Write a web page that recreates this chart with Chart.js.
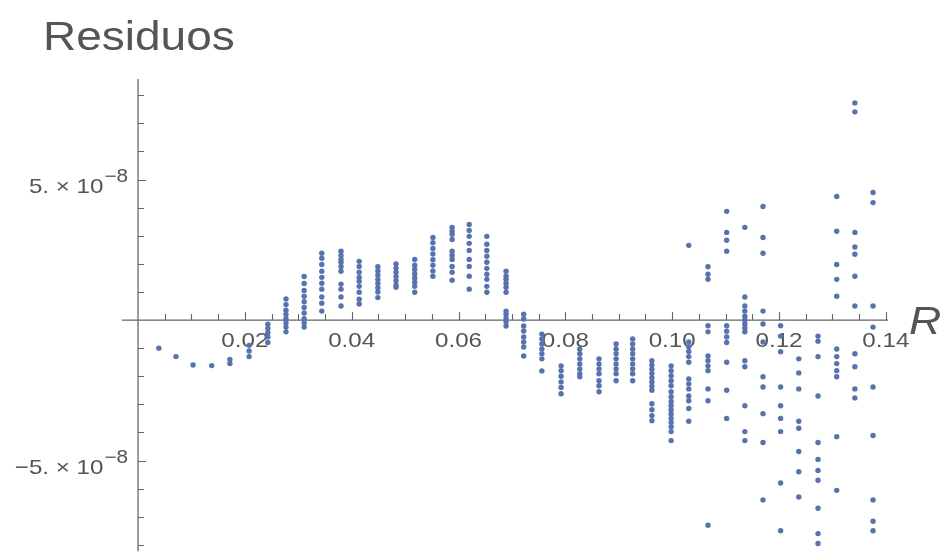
<!DOCTYPE html>
<html>
<head>
<meta charset="utf-8">
<script src="https://cdn.jsdelivr.net/npm/chart.js@4"></script>
<style>
  body { margin: 0; background: #fff; }
</style>
</head>
<body>
<canvas id="resChart" width="943" height="554"></canvas>
<script>
// residuals vs R (residuals in units of 1e-8)
const unit = 1e-8

const colR = [
    0.0039, 0.0071, 0.0103, 0.0138, 0.0172, 0.0208, 0.0243, 0.0277, 0.0311, 0.0344,
    0.0380, 0.0414, 0.0449, 0.0483, 0.0518, 0.0552, 0.0588, 0.0620, 0.0653, 0.0689,
    0.0722, 0.0756, 0.0792, 0.0827, 0.0863, 0.0895, 0.0926, 0.0962, 0.0998, 0.1031,
    0.1067, 0.1102, 0.1136, 0.1170, 0.1203, 0.1237, 0.1273, 0.1308, 0.1342, 0.1376
]

const colResiduals = [
    [-1.0],
    [-1.3],
    [-1.6],
    [-1.62],
    [-1.4, -1.55],
    [-0.9, -1.1, -1.3],
    [-0.15, -0.3, -0.45, -0.6, -0.8],
    [0.75, 0.55, 0.35, 0.2, 0.05, -0.1, -0.25, -0.42],
    [1.55, 1.3, 1.05, 0.85, 0.65, 0.45, 0.25, 0.05, -0.1, -0.25],
    [2.38, 2.2, 1.98, 1.74, 1.52, 1.31, 1.1, 0.82, 0.6, 0.32],
    [2.45, 2.3, 2.16, 2.06, 1.91, 1.74, 1.28, 1.1, 0.82, 0.5],
    [2.09, 1.91, 1.7, 1.52, 1.38, 1.2, 0.99, 0.74, 0.57],
    [1.9, 1.75, 1.6, 1.45, 1.3, 1.15, 1.0, 0.8],
    [2.0, 1.85, 1.7, 1.55, 1.4, 1.25, 1.17],
    [2.16, 1.95, 1.8, 1.65, 1.5, 1.35, 1.2, 0.99],
    [2.94, 2.75, 2.55, 2.35, 2.15, 1.95, 1.75, 1.56],
    [3.3, 3.16, 3.05, 2.87, 2.45, 2.3, 2.16, 1.91, 1.7, 1.42],
    [3.4, 3.19, 2.98, 2.73, 2.48, 2.16, 1.91, 1.56, 1.1],
    [2.98, 2.7, 2.48, 2.27, 2.06, 1.84, 1.63, 1.45, 1.2, 0.99],
    [1.74, 1.56, 1.45, 1.31, 1.17, 0.99, 0.32, 0.21, 0.07, -0.07, -0.21],
    [0.21, 0.04, -0.21, -0.39, -0.6, -0.78, -0.96, -1.28],
    [-0.5, -0.67, -0.85, -1.03, -1.2, -1.38, -1.81],
    [-1.63, -1.8, -2.0, -2.2, -2.4, -2.62],
    [-1.03, -1.2, -1.38, -1.56, -1.74, -1.91, -2.02],
    [-1.38, -1.56, -1.74, -1.91, -2.16, -2.34, -2.55],
    [-0.85, -1.03, -1.2, -1.38, -1.56, -1.74, -1.91, -2.16],
    [-0.67, -0.85, -1.03, -1.2, -1.38, -1.56, -1.74, -1.91, -2.16],
    [-1.45, -1.6, -1.75, -1.9, -2.05, -2.2, -2.35, -2.5, -2.98, -3.19, -3.4, -3.58],
    [-1.63, -1.8, -1.98, -2.16, -2.34, -2.55, -2.73, -2.9, -3.05, -3.2, -3.35, -3.5, -3.65, -3.8, -3.97, -4.29],
    [2.66, -0.78, -0.95, -1.12, -1.3, -1.5, -2.1, -2.27, -2.45, -2.7, -2.87, -3.15, -3.6],
    [1.9, 1.63, 1.45, -0.2, -0.42, -1.28, -1.45, -1.63, -1.8, -2.45, -2.87, -7.3],
    [3.87, 3.12, 2.84, 2.45, -0.2, -0.4, -0.6, -0.8, -1.5, -2.5, -3.5],
    [3.3, 0.82, 0.5, 0.32, 0.14, 0.0, -0.14, -0.28, -0.42, -1.45, -1.66, -3.05, -3.97, -4.29],
    [4.04, 2.94, 2.38, 0.32, -0.14, -0.78, -2.02, -2.38, -3.33, -4.36, -6.4],
    [-0.2, -0.57, -1.13, -2.38, -3.05, -3.5, -3.97, -5.8, -7.5],
    [-1.38, -1.88, -2.45, -3.6, -3.85, -4.68, -5.4, -6.3],
    [-0.57, -0.75, -1.3, -2.7, -4.36, -4.96, -5.35, -5.7, -6.7, -7.6, -7.95],
    [4.4, 3.16, 1.98, 1.45, 0.85, -1.03, -1.3, -1.55, -1.8, -2.02, -4.15, -6.06],
    [7.73, 7.41, 3.12, 2.6, 2.34, 1.56, 0.5, -1.2, -1.66, -2.45, -2.77],
    [4.54, 4.18, 0.5, -0.25, -2.38, -4.11, -6.4, -7.16, -7.5]
]

const xTickLabels = ['0.02', '0.04', '0.06', '0.08', '0.10', '0.12', '0.14']
const xTickValues = [0.02, 0.04, 0.06, 0.08, 0.10, 0.12, 0.14]
const yTickLabels = ['5.', '\u22125.']
const yTickValues = [5, -5]
const titleText = 'Residuos'
const xAxisName = 'R'

const points = []
colR.forEach((r, i) => {
    colResiduals[i].forEach(v => points.push({ x: r, y: v * unit }))
})

const textGray = '#555555'
const axisGray = '#666666'
const stretch = 1.15

function drawText(ctx, str, x, y, font, align) {
    ctx.save()
    ctx.font = font
    ctx.translate(x, y)
    ctx.scale(stretch, 1)
    ctx.textAlign = align
    ctx.textBaseline = 'alphabetic'
    ctx.fillStyle = textGray
    ctx.fillText(str, 0, 0)
    ctx.restore()
}

function textWidth(ctx, str, font) {
    ctx.save()
    ctx.font = font
    const w = ctx.measureText(str).width * stretch
    ctx.restore()
    return w
}

const axesPlugin = {
    id: 'mmaAxes',
    beforeDatasetsDraw(chart) {
        const ctx = chart.ctx
        const xs = chart.scales.x
        const ys = chart.scales.y
        const x0 = xs.getPixelForValue(0)
        const y0 = ys.getPixelForValue(0)

        ctx.save()
        ctx.strokeStyle = axisGray
        ctx.lineWidth = 1.3
        ctx.beginPath()
        ctx.moveTo(xs.left, y0)
        ctx.lineTo(xs.right, y0)
        ctx.moveTo(x0, ys.top)
        ctx.lineTo(x0, ys.bottom)
        ctx.stroke()

        ctx.lineWidth = 1.1
        ctx.beginPath()
        for (let k = 1; k <= 28; k++) {
            const px = Math.round(xs.getPixelForValue(k * 0.005)) + 0.5
            const len = k % 4 === 0 ? 8 : 6
            ctx.moveTo(px, y0)
            ctx.lineTo(px, y0 - len)
        }
        for (let k = -8; k <= 8; k++) {
            if (k === 0) continue
            const py = Math.round(ys.getPixelForValue(k * unit)) + 0.5
            const len = Math.abs(k) === 5 ? 8 : 6
            ctx.moveTo(x0, py)
            ctx.lineTo(x0 + len, py)
        }
        ctx.stroke()
        ctx.restore()

        const tickFont = '21px "Liberation Sans", Arial, sans-serif'
        const supFont = '18px "Liberation Sans", Arial, sans-serif'
        xTickValues.forEach((v, i) => {
            drawText(ctx, xTickLabels[i], xs.getPixelForValue(v), y0 + 27, tickFont, 'center')
        })
        yTickValues.forEach((v, i) => {
            const py = ys.getPixelForValue(v * unit)
            const right = x0 - 10
            const supW = textWidth(ctx, '\u22128', supFont)
            drawText(ctx, '\u22128', right, py + 2, supFont, 'right')
            drawText(ctx, yTickLabels[i] + ' \u00d7 10', right - supW - 1, py + 13, tickFont, 'right')
        })

        drawText(ctx, titleText, 43, 50, '40px "Liberation Sans", Arial, sans-serif', 'left')
        drawText(ctx, xAxisName, xs.right + 21, y0 + 14, 'italic 39px "Liberation Sans", Arial, sans-serif', 'left')
    }
}

new Chart(document.getElementById('resChart'), {
    type: 'scatter',
    data: {
        datasets: [{
            label: 'Residuos',
            data: points,
            backgroundColor: '#5672b4',
            borderWidth: 0,
            pointRadius: 2.7,
            pointHoverRadius: 2.7
        }]
    },
    options: {
        responsive: false,
        devicePixelRatio: 1,
        animation: false,
        events: [],
        layout: {
            padding: { left: 122, right: 55, top: 79, bottom: 1 }
        },
        scales: {
            x: { type: 'linear', min: -0.003, max: 0.1404, display: false },
            y: { type: 'linear', min: -8.23e-8, max: 8.58e-8, display: false }
        },
        plugins: {
            legend: { display: false },
            tooltip: { enabled: false },
            title: { display: false }
        }
    },
    plugins: [axesPlugin]
})
</script>
</body>
</html>
